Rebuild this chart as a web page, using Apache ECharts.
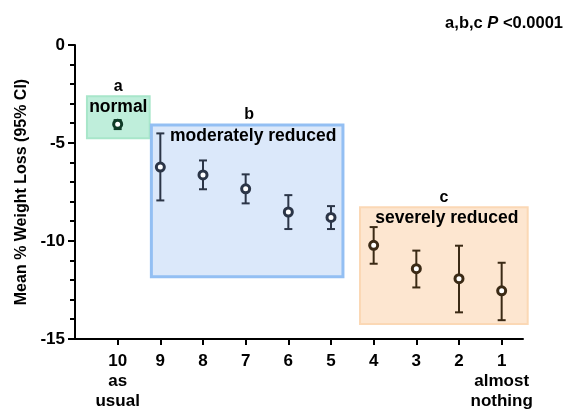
<!DOCTYPE html>
<html><head><meta charset="utf-8">
<script src="https://cdn.jsdelivr.net/npm/echarts@6/dist/echarts.min.js"></script>
<style>html,body{margin:0;padding:0;background:#fff}#c{width:571px;height:411px}</style>
</head><body><div id="c"></div>
<script>
// ---- data ----
var levels = [10, 9, 8, 7, 6, 5, 4, 3, 2, 1];
var tickText = ["10\nas\nusual", "9", "8", "7", "6", "5", "4", "3", "2", "1\nalmost\nnothing"];
var means = [-4.04, -6.23, -6.63, -7.34, -8.52, -8.80, -10.22, -11.41, -11.92, -12.54];
var upper = [-3.83, -4.51, -5.89, -6.60, -7.66, -8.22, -9.29, -10.49, -10.24, -11.11];
var lower = [-4.29, -7.93, -7.36, -8.08, -9.39, -9.39, -11.16, -12.37, -13.64, -14.04];
var groupOf = [0, 1, 1, 1, 1, 1, 2, 2, 2, 2];
var boxLetters = ["a", "b", "c"];
var boxLabels = ["normal", "moderately reduced", "severely reduced"];
var boxXFrom = [10.72, 9.21, 4.32];
var boxXTo = [9.25, 4.72, 0.39];
var boxYTop = [-2.61, -4.08, -8.28];
var boxYBottom = [-4.76, -11.83, -14.23];
var yMinorTicks = [-1, -2, -3, -4, -6, -7, -8, -9, -11, -12, -13, -14];
var yAxisTitle = "Mean % Weight Loss (95% CI)";

// ---- styles ----
var FONT = "Liberation Sans";
var boxFill = ["#bfeedb", "#dbe8fa", "#fde6d0"];
var boxStroke = ["#a8e6ca", "#93bff3", "#fbd8b5"];
var boxStrokeW = [2, 3, 2];
var markColor = ["#0f3b27", "#2b3547", "#3b2a15"];
var X_MIN = 0.5, X_MAX = 11;

var chart = echarts.init(document.getElementById('c'), null, {renderer: 'canvas'});

var boxData = boxLetters.map(function (l, i) { return [boxXFrom[i], boxYTop[i], boxXTo[i], boxYBottom[i], i]; });
var errData = levels.map(function (x, i) { return [x, lower[i], upper[i], groupOf[i]]; });
var ptData = levels.map(function (x, i) {
  return {value: [x, means[i]], itemStyle: {borderColor: markColor[groupOf[i]]}};
});
var minorData = yMinorTicks.map(function (v) { return [X_MAX, v]; });

var option = {
  animation: false,
  title: {
    text: '{n|a,b,c }{i|P}{n| <0.0001}',
    right: 3, top: 10,
    textStyle: {
      rich: {
        n: {fontFamily: FONT, fontWeight: 'bold', fontSize: 16.5, color: '#000'},
        i: {fontFamily: FONT, fontWeight: 'bold', fontStyle: 'italic', fontSize: 16.5, color: '#000'}
      }
    }
  },
  grid: {left: 75, right: 48, top: 45, bottom: 69, containLabel: false},
  xAxis: {
    type: 'value', min: X_MIN, max: X_MAX, inverse: true,
    splitLine: {show: false},
    axisLine: {show: true, onZero: false, lineStyle: {color: '#000', width: 2}},
    axisTick: {show: true, customValues: levels, length: 6, lineStyle: {color: '#000', width: 2}},
    axisLabel: {
      customValues: levels, margin: 12,
      fontFamily: FONT, fontWeight: 'bold', fontSize: 17, color: '#000', lineHeight: 20,
      formatter: function (v) { var k = levels.indexOf(Math.round(v)); return k >= 0 ? tickText[k] : ''; }
    }
  },
  yAxis: {
    type: 'value', min: -15, max: 0, interval: 5,
    name: yAxisTitle, nameLocation: 'middle', nameRotate: 90, nameGap: 45,
    nameTextStyle: {fontFamily: FONT, fontWeight: 'bold', fontSize: 16, color: '#000'},
    splitLine: {show: false},
    axisLine: {show: true, onZero: false, lineStyle: {color: '#000', width: 2}},
    axisTick: {show: true, length: 7, lineStyle: {color: '#000', width: 2}},
    axisLabel: {margin: 10, fontFamily: FONT, fontWeight: 'bold', fontSize: 17, color: '#000'}
  },
  series: [
    {
      type: 'custom', clip: false, z: 1, data: boxData,
      renderItem: function (params, api) {
        var i = api.value(4);
        var p0 = api.coord([api.value(0), api.value(1)]);
        var p1 = api.coord([api.value(2), api.value(3)]);
        var x = Math.min(p0[0], p1[0]), y = Math.min(p0[1], p1[1]);
        var w = Math.abs(p1[0] - p0[0]), h = Math.abs(p1[1] - p0[1]);
        var cx = x + w / 2;
        return {
          type: 'group',
          children: [
            {type: 'rect', shape: {x: x, y: y, width: w, height: h},
              style: {fill: boxFill[i], stroke: boxStroke[i], lineWidth: boxStrokeW[i]}},
            {type: 'text', style: {text: boxLetters[i], x: cx + (i === 1 ? 2 : 0), y: y - 10, align: 'center', verticalAlign: 'middle',
              font: 'bold 16px ' + FONT, fill: '#000'}},
            {type: 'text', style: {text: boxLabels[i], x: cx + (i === 0 ? 0 : (i === 1 ? 6 : 3)), y: y + 11, align: 'center', verticalAlign: 'middle',
              font: 'bold 17.5px ' + FONT, fill: '#000'}}
          ]
        };
      }
    },
    {
      type: 'custom', clip: false, z: 2, data: errData,
      renderItem: function (params, api) {
        var g = api.value(3);
        var lo = api.coord([api.value(0), api.value(1)]);
        var hi = api.coord([api.value(0), api.value(2)]);
        var c = markColor[g], hw = 4;
        var st = {stroke: c, lineWidth: 2};
        return {
          type: 'group',
          children: [
            {type: 'line', shape: {x1: lo[0], y1: lo[1], x2: hi[0], y2: hi[1]}, style: st},
            {type: 'line', shape: {x1: lo[0] - hw, y1: lo[1], x2: lo[0] + hw, y2: lo[1]}, style: st},
            {type: 'line', shape: {x1: hi[0] - hw, y1: hi[1], x2: hi[0] + hw, y2: hi[1]}, style: st}
          ]
        };
      }
    },
    {
      type: 'scatter', z: 3, symbol: 'circle', symbolSize: 8,
      itemStyle: {color: '#fff', borderWidth: 3, opacity: 1},
      data: ptData
    },
    {
      type: 'custom', clip: false, z: 4, silent: true, data: minorData,
      renderItem: function (params, api) {
        var p = api.coord([api.value(0), api.value(1)]);
        var yy = Math.round(p[1]);
        return {type: 'line', shape: {x1: p[0] - 5, y1: yy, x2: p[0], y2: yy},
          style: {stroke: '#000', lineWidth: 2}};
      }
    }
  ]
};
chart.setOption(option);
</script>
</body></html>
